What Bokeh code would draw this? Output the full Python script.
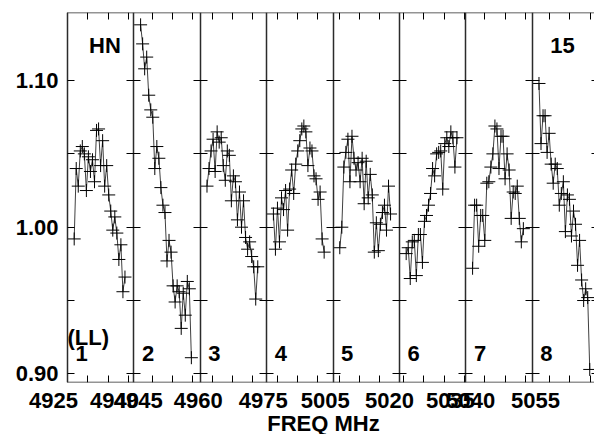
import math
from bokeh.plotting import figure
from bokeh.models import (ColumnDataSource, LinearAxis, FixedTicker, Range1d,
                          LabelSet, Label, NumeralTickFormatter)
from bokeh.core.properties import value
from bokeh.embed import file_html
from bokeh.resources import INLINE

# ---------------- data ----------------
IF_NUMBERS = ["1", "2", "3", "4", "5", "6", "7", "8"]
# frequency at the left edge of each IF panel (MHz)
IF_EDGE_MHZ = [4925.0, 4940.5, 4957.05, 4972.4, 5003.5, 5019.0, 5035.35, 5050.75]
PANEL_SPAN_MHZ = 16.35
FIRST_CHAN_OFFSET_MHZ = 1.65
CHAN_WIDTH_MHZ = 0.5

AMP_IF1 = [0.992, 1.040, 1.028, 1.052, 1.055, 1.050, 1.025, 1.048, 1.038, 1.046,
           1.031, 1.066, 1.067, 1.042, 1.059, 1.028, 1.042, 1.022, 1.011, 0.998,
           1.007, 0.996, 0.978, 0.988, 0.956, 0.966]
AMP_IF2 = [1.138, 1.125, 1.108, 1.116, 1.090, 1.080, 1.075, 1.040, 1.055, 1.047,
           1.027, 1.015, 1.010, 0.977, 0.991, 0.983, 0.960, 0.949, 0.960, 0.956,
           0.931, 0.955, 0.940, 0.963, 0.958, 0.911]
AMP_IF3 = [1.028, 1.040, 1.052, 1.060, 1.038, 1.065, 1.058, 1.061, 1.042, 1.032,
           1.052, 1.049, 1.018, 1.035, 1.031, 1.005, 1.024, 1.000, 1.018, 0.993,
           0.985, 0.990, 0.980, 0.973, 0.951, 0.973]
AMP_IF4 = [1.009, 0.985, 1.013, 0.990, 1.020, 1.012, 1.025, 0.998, 1.026, 1.039,
           1.023, 1.043, 1.052, 1.059, 1.067, 1.069, 1.065, 1.042, 1.054, 1.052,
           1.035, 1.033, 1.019, 1.024, 0.992, 0.983]
AMP_IF5 = [0.986, 1.000, 1.041, 1.051, 1.060, 1.031, 1.062, 1.047, 1.039, 1.044,
           1.031, 1.047, 1.016, 1.045, 1.020, 1.036, 1.022, 0.983, 1.003, 0.984,
           1.002, 1.010, 1.015, 0.998, 1.028, 1.009]
AMP_IF6 = [0.982, 0.986, 0.965, 0.990, 0.991, 0.967, 0.995, 0.995, 0.976, 1.004,
           1.008, 1.015, 1.023, 1.040, 1.035, 1.050, 1.051, 1.052, 1.026, 1.057,
           1.061, 1.055, 1.065, 1.061, 1.041, 1.061]
AMP_IF7 = [0.972, 1.015, 1.015, 0.987, 1.008, 1.008, 0.991, 1.030, 1.031, 1.041,
           1.050, 1.069, 1.067, 1.040, 1.062, 1.062, 1.033, 1.050, 1.039, 1.006,
           1.024, 1.023, 1.028, 1.006, 0.990, 0.999]
AMP_IF8 = [1.098, 1.057, 1.076, 1.076, 1.051, 1.064, 1.043, 1.030, 1.043, 1.040,
           1.015, 1.023, 1.031, 0.997, 1.022, 1.019, 0.994, 1.011, 1.002, 0.974,
           0.991, 0.964, 0.950, 0.958, 0.952, 0.903]
AMPLITUDES = [AMP_IF1, AMP_IF2, AMP_IF3, AMP_IF4, AMP_IF5, AMP_IF6, AMP_IF7, AMP_IF8]

Y_TICKS = [0.90, 0.95, 1.00, 1.05, 1.10]
Y_UNLABELED = [0.95, 1.05]
FREQ_TICK_STEP_MHZ = 5
FREQ_LABEL_STEP_MHZ = 15
SOURCE_NAME = "HN"
ANTENNA_NAME = "15"
STOKES_LABEL = "(LL)"
X_TITLE = "FREQ MHz"

# ---------------- style / layout ----------------
FONT = "Liberation Sans"
FSIZE = "22px"
PX_PER_MHZ = 4.061
LEFT_PAD_PX = 15          # blank strip left of IF 1 (room for shifted labels)
VISIBLE_PX = 527          # width of the panel area that is shown
LABEL_SHIFT_PX = 14       # frequency labels sit left of their ticks
Y_MIN, Y_MAX = 0.8941, 1.1464
FRAME_COLOR = "#2b2b2b"
X_START = -LEFT_PAD_PX / PX_PER_MHZ
X_END = VISIBLE_PX / PX_PER_MHZ


def panel_x(k, f):
    return k * PANEL_SPAN_MHZ + (f - IF_EDGE_MHZ[k])


p = figure(frame_width=LEFT_PAD_PX + VISIBLE_PX, frame_height=370,
           x_range=Range1d(X_START, X_END), y_range=Range1d(Y_MIN, Y_MAX),
           x_axis_location=None, y_axis_location=None,
           output_backend="svg", toolbar_location=None, title=None,
           min_border_left=52, min_border_right=0, min_border_top=12, min_border_bottom=52)
p.outline_line_color = None
p.background_fill_color = "white"
p.border_fill_color = "white"
for g in p.grid:
    g.visible = False

# data: one trace per IF panel
for k, amps in enumerate(AMPLITUDES):
    freqs = [IF_EDGE_MHZ[k] + FIRST_CHAN_OFFSET_MHZ + CHAN_WIDTH_MHZ * i for i in range(len(amps))]
    src = ColumnDataSource(dict(freq=freqs, x=[panel_x(k, f) for f in freqs], amp=amps))
    p.line("x", "amp", source=src, line_color="#404040", line_width=1)
    p.scatter("x", "amp", source=src, marker="cross", size=13,
              line_color="black", line_width=1)

# frequency ticks per panel
tick_x, label_x, label_text = [], [], []
for k, edge in enumerate(IF_EDGE_MHZ):
    first = math.ceil(edge / FREQ_TICK_STEP_MHZ) * FREQ_TICK_STEP_MHZ
    f = first
    while f <= edge + PANEL_SPAN_MHZ + 1e-9:
        tick_x.append(panel_x(k, f))
        if (f - first) % FREQ_LABEL_STEP_MHZ == 0:
            label_x.append(panel_x(k, f))
            label_text.append(f"{f:.0f}")
        f += FREQ_TICK_STEP_MHZ


def tick_axis(ticks, loc, tin=7, tout=0, bounds="auto"):
    ax = LinearAxis(ticker=FixedTicker(ticks=ticks, minor_ticks=[]), fixed_location=loc,
                    bounds=bounds)
    ax.major_tick_in = tin
    ax.major_tick_out = tout
    ax.major_tick_line_color = "black"
    ax.major_tick_line_width = 1
    ax.minor_tick_line_color = None
    ax.major_label_text_color = None
    ax.major_label_text_font_size = "1px"
    ax.major_label_standoff = 0
    ax.axis_line_color = FRAME_COLOR
    ax.axis_line_width = 1.5
    return ax


def style_labels(ax, standoff):
    ax.major_tick_in = 0
    ax.major_tick_out = 0
    ax.minor_tick_line_color = None
    ax.major_tick_line_color = None
    ax.axis_line_color = None
    ax.major_label_text_font = FONT
    ax.major_label_text_font_size = FSIZE
    ax.major_label_text_font_style = "bold"
    ax.major_label_text_color = "black"
    ax.major_label_standoff = standoff


p.add_layout(tick_axis(tick_x, Y_MAX, bounds=(0, X_END)), "above")
p.add_layout(tick_axis(tick_x, Y_MIN, bounds=(0, X_END)), "below")

# frequency labels + axis title (labels sit left of their ticks)
shifted = [x - LABEL_SHIFT_PX / PX_PER_MHZ for x in label_x]
lab_ax = LinearAxis(ticker=FixedTicker(ticks=shifted, minor_ticks=[]),
                    major_label_overrides=dict(zip(shifted, label_text)))
style_labels(lab_ax, 10)
lab_ax.axis_label = X_TITLE
lab_ax.axis_label_text_font = FONT
lab_ax.axis_label_text_font_size = FSIZE
lab_ax.axis_label_text_font_style = "bold"
lab_ax.axis_label_text_color = "black"
lab_ax.axis_label_standoff = 0
p.add_layout(lab_ax, "below")

# amplitude labels (drawn just right of the frame's blank strip edge)
ylab_ax = LinearAxis(ticker=FixedTicker(ticks=Y_TICKS, minor_ticks=[]),
                     formatter=NumeralTickFormatter(format="0.00"),
                     major_label_overrides={v: "" for v in Y_UNLABELED})
style_labels(ylab_ax, -(LEFT_PAD_PX - 9))
p.add_layout(ylab_ax, "left")

# amplitude axis line + ticks at the left edge of IF 1
p.add_layout(tick_axis(Y_TICKS, 0, tin=7, tout=0), "left")

# panel dividers with amplitude ticks on both sides
for k in range(1, len(IF_EDGE_MHZ)):
    p.add_layout(tick_axis(Y_TICKS, k * PANEL_SPAN_MHZ, tin=7, tout=7), "left")
p.add_layout(tick_axis(Y_TICKS, len(IF_EDGE_MHZ) * PANEL_SPAN_MHZ, tin=7, tout=0), "right")

# IF numbers
p.add_layout(LabelSet(x="x", y="y", text="text",
                      source=ColumnDataSource(dict(x=[k * PANEL_SPAN_MHZ for k in range(len(IF_NUMBERS))],
                                                   y=[0.909] * len(IF_NUMBERS), text=IF_NUMBERS)),
                      x_offset=8, text_align="left", text_baseline="alphabetic",
                      text_font=value(FONT), text_font_size=FSIZE, text_font_style="bold",
                      text_color="black"))


def text_label(x, y, txt, dx=0, dy=0, align="left"):
    return Label(x=x, y=y, text=txt, x_offset=dx, y_offset=dy, text_align=align,
                 text_baseline="alphabetic", text_font=FONT, text_font_size=FSIZE,
                 text_font_style="bold", text_color="black")


p.add_layout(text_label(0, 0.925, STOKES_LABEL, dx=0))
p.add_layout(text_label(0, 1.1239, SOURCE_NAME, dx=21.5))
p.add_layout(text_label(7 * PANEL_SPAN_MHZ, 1.1239, ANTENNA_NAME, dx=18))

open("out.html", "w").write(file_html(p, INLINE, title="POSSM bandpass"))
